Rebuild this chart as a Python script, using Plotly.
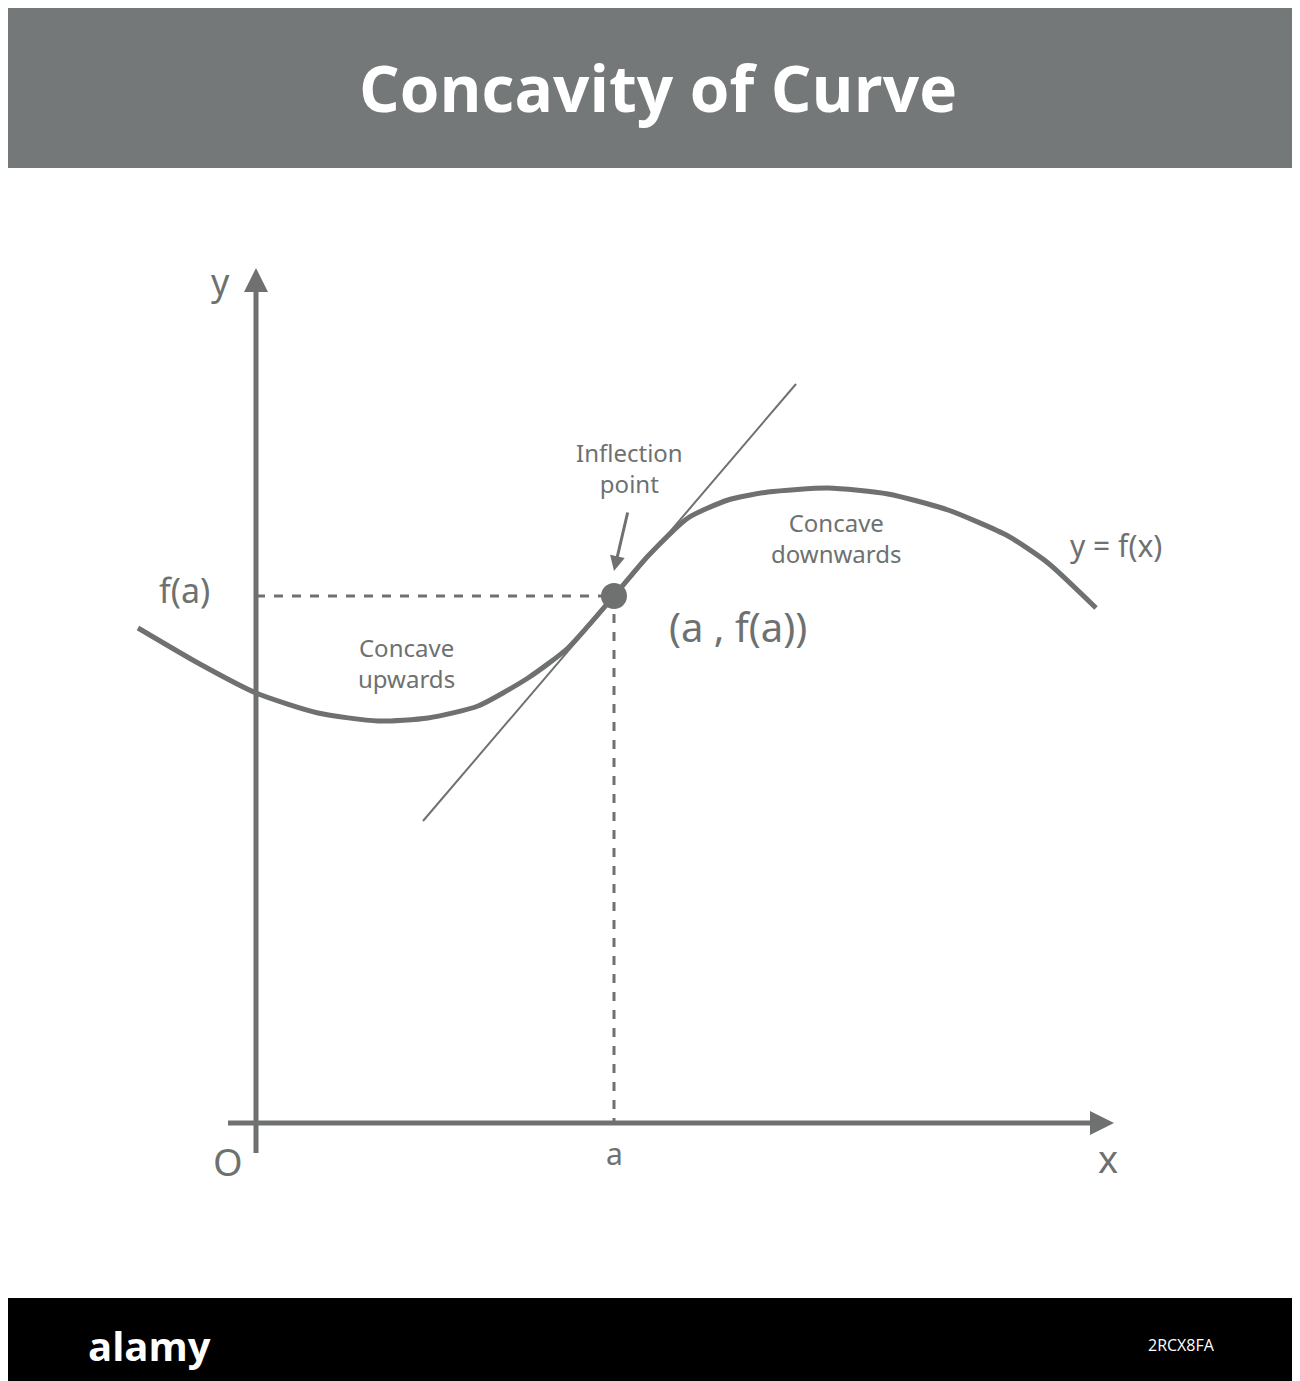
import plotly.graph_objects as go

G = "#6e7170"
# data units: origin O at axis intersection
curve_x = [-1.18, -0.58, 0.0, 0.62, 1.22, 1.72, 2.22, 2.72, 3.12, 3.58, 3.92, 4.32, 4.72, 5.12, 5.72, 6.32, 6.92, 7.52, 7.92, 8.40]
curve_y = [4.95, 4.60, 4.30, 4.10, 4.02, 4.05, 4.17, 4.45, 4.75, 5.27, 5.67, 6.05, 6.23, 6.31, 6.35, 6.29, 6.13, 5.87, 5.60, 5.15]
tan_x = [1.67, 5.40]
tan_y = [3.02, 7.39]
a_x, fa_y = 3.58, 5.27

fig = go.Figure()
fig.add_trace(go.Scatter(x=curve_x, y=curve_y, mode="lines", line=dict(color=G, width=5, shape="spline", smoothing=0.6), hoverinfo="skip"))
fig.add_trace(go.Scatter(x=tan_x, y=tan_y, mode="lines", line=dict(color=G, width=2), hoverinfo="skip"))
fig.add_trace(go.Scatter(x=[0, a_x], y=[fa_y, fa_y], mode="lines", line=dict(color=G, width=3, dash="dash"), hoverinfo="skip"))
fig.add_trace(go.Scatter(x=[a_x, a_x], y=[fa_y, 0], mode="lines", line=dict(color=G, width=3, dash="dash"), hoverinfo="skip"))
fig.add_trace(go.Scatter(x=[a_x], y=[fa_y], mode="markers", marker=dict(color=G, size=26), hoverinfo="skip"))

# axes lines
fig.add_trace(go.Scatter(x=[0, 0], y=[-0.30, 8.35], mode="lines", line=dict(color=G, width=5), hoverinfo="skip"))
fig.add_trace(go.Scatter(x=[-0.28, 8.35], y=[0, 0], mode="lines", line=dict(color=G, width=5), hoverinfo="skip"))
fig.add_annotation(x=0, y=8.55, ax=0, ay=8.0, xref="x", yref="y", axref="x", ayref="y", showarrow=True,
                   arrowhead=2, arrowsize=1.2, arrowwidth=4, arrowcolor=G, text="")
fig.add_annotation(x=8.58, y=0, ax=8.0, ay=0, xref="x", yref="y", axref="x", ayref="y", showarrow=True,
                   arrowhead=2, arrowsize=1.2, arrowwidth=4, arrowcolor=G, text="")
# inflection arrow
fig.add_annotation(x=3.58, y=5.52, ax=3.72, ay=6.12, xref="x", yref="y", axref="x", ayref="y", showarrow=True,
                   arrowhead=2, arrowsize=1, arrowwidth=3, arrowcolor=G, text="")

F = "Noto Sans"
def txt(x, y, t, size, **kw):
    fig.add_annotation(x=x, y=y, xref="x", yref="y", text=t, showarrow=False,
                       font=dict(family=F, size=size, color=G), **kw)
txt(-0.36, 8.42, "y", 36)
txt(8.52, -0.35, "x", 38)
txt(-0.28, -0.38, "O", 38)
txt(3.58, -0.30, "a", 30)
txt(-0.72, 5.33, "f(a)", 34)
txt(4.82, 4.97, "(a , f(a))", 40)
txt(3.73, 6.55, "Inflection<br>point", 24)
txt(1.5, 4.6, "Concave<br>upwards", 24)
txt(5.8, 5.85, "Concave<br>downwards", 24)
txt(8.6, 5.78, "y = f(x)", 30)

fig.add_shape(type="rect", xref="paper", yref="paper", x0=0, x1=1, y0=1 - 160/1381, y1=1, fillcolor="#757878", line_width=0, layer="below")
fig.add_shape(type="rect", xref="paper", yref="paper", x0=0, x1=1, y0=0, y1=91/1381, fillcolor="#000000", line_width=0)
fig.add_annotation(xref="paper", yref="paper", x=0.5, y=1 - 80/1381, yanchor="middle", xanchor="center",
                   text="<b>Concavity of Curve</b>", showarrow=False,
                   font=dict(family="Open Sans", size=64, color="white"))
fig.add_annotation(xref="paper", yref="paper", x=0.06, y=44/1381, yanchor="middle", text="<b>alamy</b>", showarrow=False,
                   font=dict(family="Open Sans", size=40, color="white"))
fig.add_annotation(xref="paper", yref="paper", x=0.93, y=44/1381, yanchor="middle", text="2RCX8FA", showarrow=False,
                   font=dict(family="Open Sans", size=16, color="white"))

fig.update_layout(width=1300, height=1381, margin=dict(l=0, r=0, t=0, b=0), showlegend=False,
                  plot_bgcolor="white", paper_bgcolor="white",
                  xaxis=dict(range=[-2.48, 10.52], visible=False, fixedrange=True),
                  yaxis=dict(range=[-2.66, 11.15], visible=False, fixedrange=True))
fig.write_html("out.html")
